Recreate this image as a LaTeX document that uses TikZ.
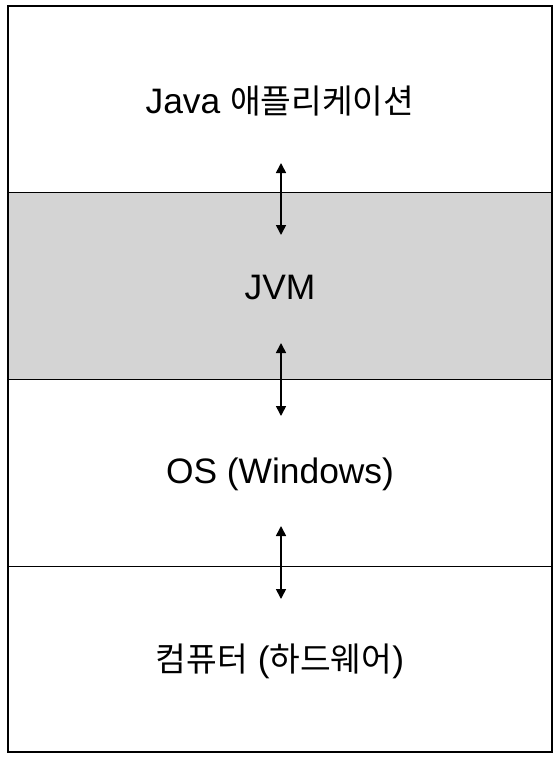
\documentclass[tikz,border=0pt]{standalone}
\usepackage{fontspec}
\setmainfont{Liberation Sans}
\newfontfamily\kr{Noto Sans CJK KR}
\usetikzlibrary{arrows.meta}
\definecolor{jvmgray}{HTML}{D4D4D4}
\tikzset{
  layer/.style={draw=black, line width=0.9bp, inner sep=0pt, outer sep=0pt,
    minimum width=544bp, font=\fontsize{35.5}{42}\selectfont},
  label/.style={inner sep=0pt, font=\fontsize{35.5}{42}\selectfont},
  link/.style={line width=1.6bp, {Triangle[width=10bp,length=10bp]}-{Triangle[width=10bp,length=10bp]}}
}
\begin{document}
\begin{tikzpicture}[x=1bp,y=-1bp]
\useasboundingbox (0,0) rectangle (558,760);
\node[layer, minimum height=186bp] (app) at (280,99) {};
\node[layer, fill=jvmgray, minimum height=187bp] (jvm) at (280,285.5) {};
\node[layer, minimum height=187bp] (os) at (280,472.5) {};
\node[layer, minimum height=186bp] (hw) at (280,659) {};
\node[label] (tapp) at (280,101) {Java {\kr\fontsize{33.5}{42}\selectfont 애플리케이션}};
\node[label] (tjvm) at (280,287.5) {JVM};
\node[label] (tos) at (280,474.5) {OS (Windows)};
\node[label] (thw) at (280,661) {{\kr\fontsize{33.5}{42}\selectfont 컴퓨터} ({\kr\fontsize{33.5}{42}\selectfont 하드웨어})};
\draw[line width=1.4bp] (app.north west) rectangle (hw.south east);
\coordinate (a1t) at (281,163);
\coordinate (a1b) at (281,235);
\coordinate (a2t) at (281,343);
\coordinate (a2b) at (281,416);
\coordinate (a3t) at (281,526);
\coordinate (a3b) at (281,599);
\draw[link] (a1t) -- (a1b);
\draw[link] (a2t) -- (a2b);
\draw[link] (a3t) -- (a3b);
\end{tikzpicture}
\end{document}
